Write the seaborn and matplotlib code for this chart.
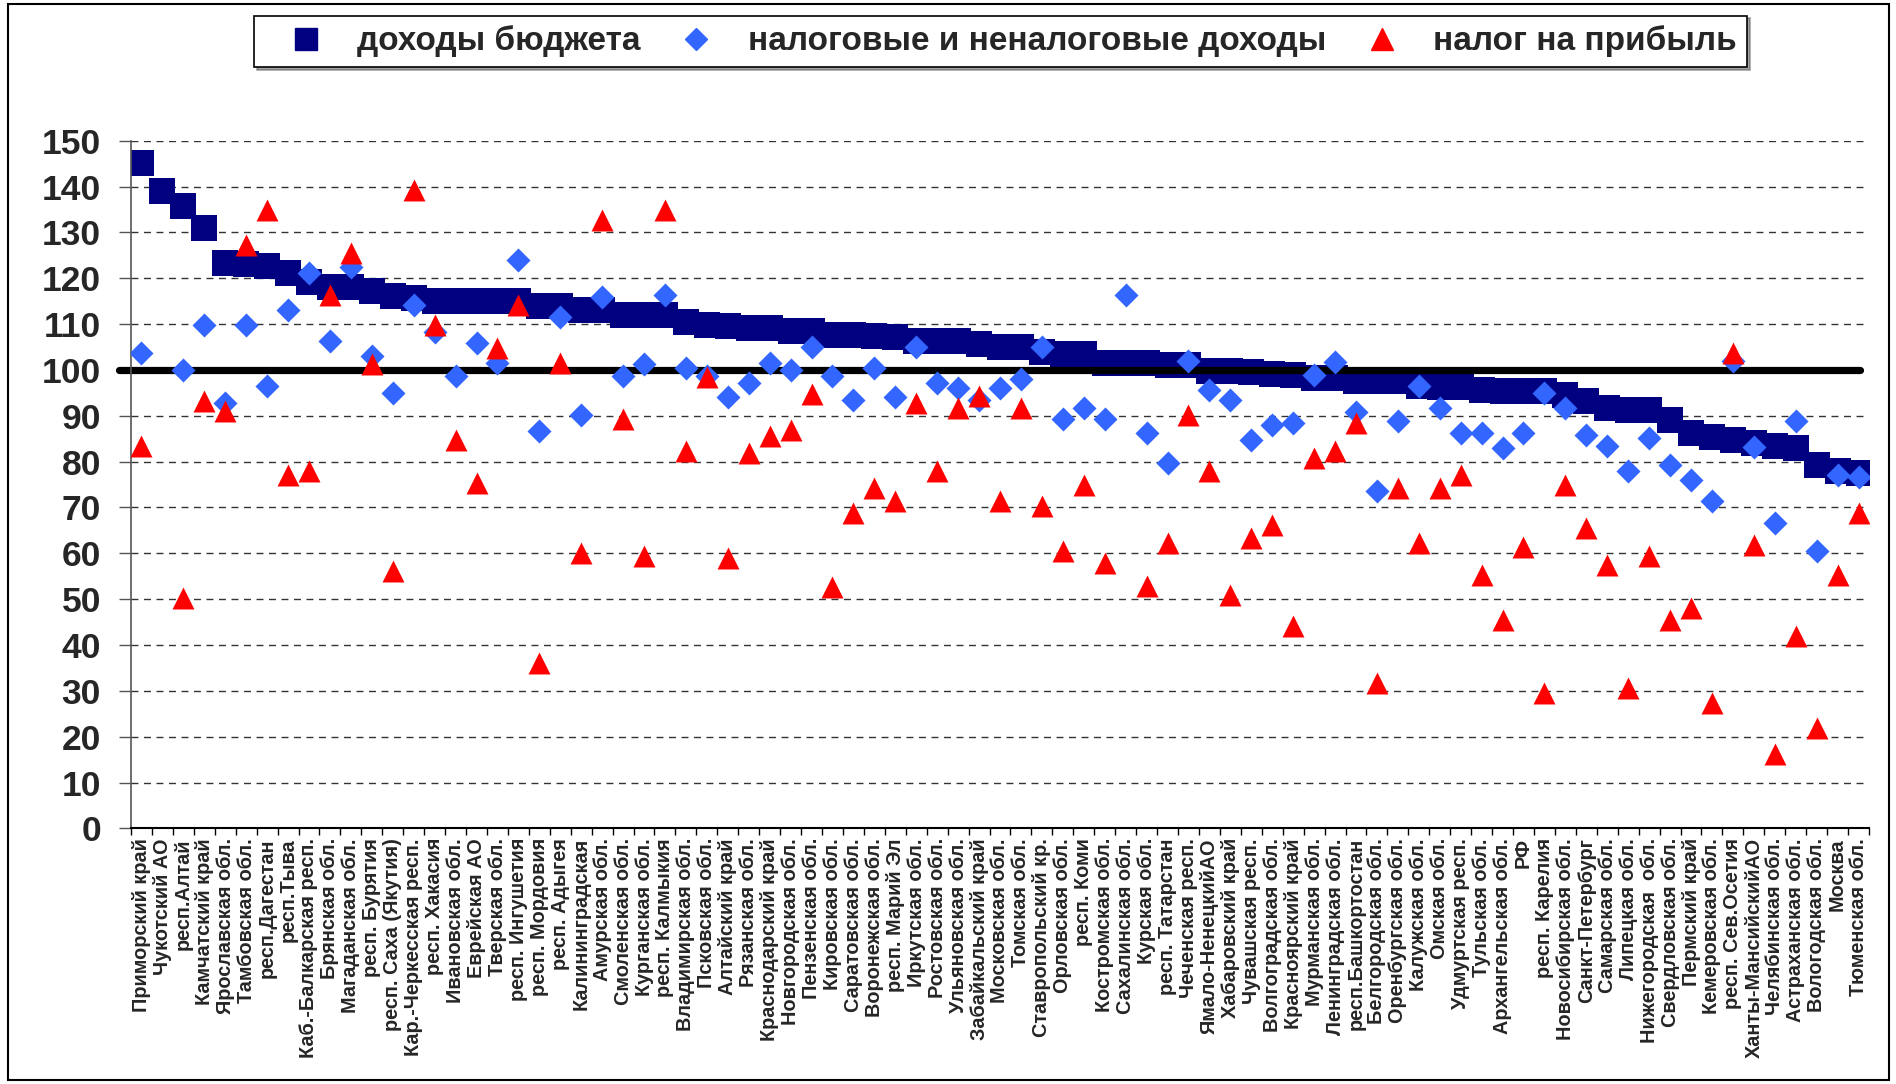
import numpy as np
import pandas as pd
import matplotlib
matplotlib.use("Agg")
import matplotlib.pyplot as plt
import seaborn as sns
from matplotlib.lines import Line2D
from matplotlib.patches import Rectangle
from matplotlib.ticker import FixedLocator

# ---------------- data ----------------
regions = [
    "Приморский край", "Чукотский АО", "респ.Алтай", "Камчатский край", "Ярославская обл.",
    "Тамбовская обл.", "респ.Дагестан", "респ.Тыва", "Каб.-Балкарская респ.", "Брянская обл.",
    "Магаданская обл.", "респ. Бурятия", "респ. Саха (Якутия)", "Кар.-Черкесская респ.", "респ. Хакасия",
    "Ивановская обл.", "Еврейская АО", "Тверская обл.", "респ. Ингушетия", "респ. Мордовия",
    "респ. Адыгея", "Калининградская", "Амурская обл.", "Смоленская обл.", "Курганская обл.",
    "респ. Калмыкия", "Владимирская обл.", "Псковская обл.", "Алтайский край", "Рязанская обл.",
    "Краснодарский край", "Новгородская обл.", "Пензенская обл.", "Кировская обл.", "Саратовская обл.",
    "Воронежская обл.", "респ. Марий Эл", "Иркутская обл.", "Ростовская обл.", "Ульяновская обл.",
    "Забайкальский край", "Московская обл.", "Томская обл.", "Ставропольский кр.", "Орловская обл.",
    "респ. Коми", "Костромская обл.", "Сахалинская обл.", "Курская обл.", "респ. Татарстан",
    "Чеченская респ.", "Ямало-НенецкийАО", "Хабаровский край", "Чувашская респ.", "Волгоградская обл.",
    "Красноярский край", "Мурманская обл.", "Ленинградская обл.", "респ.Башкортостан", "Белгородская обл.",
    "Оренбургская обл.", "Калужская обл.", "Омская обл.", "Удмуртская респ.", "Тульская обл.",
    "Архангельская обл.", "РФ", "респ. Карелия", "Новосибирская обл.", "Санкт-Петербург",
    "Самарская обл.", "Липецкая обл.", "Нижегородская  обл.", "Свердловская обл.", "Пермский край",
    "Кемеровская обл.", "респ. Сев.Осетия", "Ханты-МансийскийАО", "Челябинская обл.", "Астраханская обл.",
    "Вологодская обл.", "Москва", "Тюменская обл.",
]

budget_income = [
    145.1, 139.1, 135.8, 130.9, 123.3, 123.0, 122.6, 121.2, 119.2, 118.1,
    118.0, 117.2, 116.2, 115.7, 115.0, 115.0, 115.0, 115.0, 115.0, 114.0,
    114.0, 113.0, 113.0, 112.0, 112.0, 112.0, 110.5, 109.7, 109.5, 109.2,
    109.2, 108.5, 108.5, 107.7, 107.6, 107.5, 107.1, 106.4, 106.4, 106.4,
    105.6, 105.1, 105.1, 104.0, 103.5, 103.5, 101.5, 101.5, 101.5, 101.0,
    101.0, 99.8, 99.8, 99.5, 99.2, 98.8, 98.3, 98.3, 97.6, 97.6,
    97.6, 96.6, 96.3, 96.3, 95.6, 95.3, 95.3, 95.3, 94.6, 93.3,
    91.6, 91.3, 91.3, 89.0, 86.3, 85.3, 84.7, 84.1, 83.5, 82.9,
    79.3, 78.0, 77.6,
]

tax_nontax_income = [
    103.6, np.nan, 99.9, 109.7, 92.7, 109.7, 96.6, 113.1, 121.2, 106.4,
    122.5, 103.1, 94.9, 114.1, 108.2, 98.7, 105.9, 101.5, 124.0, 86.7,
    111.5, 90.1, 115.8, 98.7, 101.2, 116.4, 100.5, 98.7, 94.0, 97.2,
    101.6, 99.9, 104.9, 98.7, 93.4, 100.5, 94.0, 104.9, 97.1, 96.1,
    93.4, 96.1, 98.1, 104.9, 89.4, 91.7, 89.4, 116.4, 86.2, 79.8,
    101.9, 95.6, 93.4, 84.7, 88.0, 88.5, 98.8, 101.7, 90.9, 73.7,
    88.9, 96.6, 91.7, 86.2, 86.2, 83.0, 86.2, 94.9, 91.7, 85.7,
    83.4, 77.9, 85.2, 79.2, 75.9, 71.4, 102.0, 83.1, 66.6, 88.9,
    60.6, 77.1, 76.6,
]

profit_tax = [
    83.4, np.nan, 50.2, 93.2, 91.1, 127.2, 134.8, 77.0, 78.0, 116.3,
    125.5, 101.4, 56.2, 139.2, 109.7, 84.8, 75.3, 104.8, 114.1, 36.0,
    101.6, 60.0, 132.7, 89.4, 59.5, 134.8, 82.4, 98.4, 58.9, 81.8,
    85.6, 86.8, 94.7, 52.7, 68.8, 74.3, 71.4, 92.8, 78.0, 91.6,
    94.4, 71.4, 91.7, 70.3, 60.6, 74.8, 57.8, np.nan, 52.9, 62.3,
    90.1, 78.0, 50.8, 63.4, 66.1, 44.2, 80.7, 82.4, 88.4, 31.8,
    74.3, 62.3, 74.3, 77.0, 55.3, 45.4, 61.3, 29.6, 74.8, 65.5,
    57.4, 30.6, 59.4, 45.4, 48.0, 27.3, 103.6, 61.8, 16.3, 42.0,
    22.0, 55.3, 68.8,
]

y_ticks = list(range(0, 151, 10))
legend_labels = ["доходы бюджета", "налоговые и неналоговые доходы", "налог на прибыль"]
reference_level = 100

# ---------------- style ----------------
sns.set_theme(style="white")
plt.rcParams["font.family"] = ["Liberation Sans", "DejaVu Sans"]
plt.rcParams["font.weight"] = "bold"

C_BUDGET = "#000080"
C_TAX = "#3366FF"
C_PROFIT = "#FF0000"

W, H = 1896, 1084
fig = plt.figure(figsize=(W / 100, H / 100), dpi=100)
fig.patch.set_facecolor("white")

ax_left, ax_right, ax_bottom, ax_top = 131, 1869, 828.4, 140.7
ax = fig.add_axes([ax_left / W, 1 - ax_bottom / H, (ax_right - ax_left) / W, (ax_bottom - ax_top) / H])
ax.set_facecolor("white")

df = pd.DataFrame({
    "region": regions,
    "budget": budget_income,
    "tax": tax_nontax_income,
    "profit": profit_tax,
})

sns.scatterplot(data=df, x="region", y="budget", marker="s", s=350, color=C_BUDGET,
                linewidth=0, ax=ax, zorder=2, legend=False)
ax.axhline(reference_level, xmin=-0.007, xmax=0.995, color="black", lw=5.2,
           zorder=2.5, clip_on=False)
sns.scatterplot(data=df, x="region", y="tax", marker="D", s=150, color=C_TAX,
                linewidth=0, ax=ax, zorder=3, legend=False)
sns.scatterplot(data=df, x="region", y="profit", marker="^", s=250, color=C_PROFIT,
                linewidth=0, ax=ax, zorder=4, legend=False)

n = len(regions)
ax.set_xlim(-0.5, n - 0.5)
ax.set_ylim(0, 150)
ax.set_xlabel("")
ax.set_ylabel("")

# y axis
ax.set_yticks(y_ticks)
ax.yaxis.grid(True, linestyle=(0, (5, 4)), color="#333333", lw=1.0)
ax.xaxis.grid(False)
ax.set_axisbelow(True)
ax.tick_params(axis="y", which="major", direction="out", length=8.6, width=1,
               color="#555555", pad=13, labelsize=25.5, left=True)
for t in ax.get_yticklabels():
    t.set_fontweight("bold")

# x axis
ax.set_xticks(range(n))
ax.set_xticklabels(regions, rotation=90, fontsize=14.3, fontweight="bold")
ax.tick_params(axis="x", which="major", length=0, pad=7)
ax.xaxis.set_minor_locator(FixedLocator(np.arange(n + 1) - 0.5))
ax.tick_params(axis="x", which="minor", direction="out", length=5, width=1,
               color="black", bottom=True)

for side in ["top", "right"]:
    ax.spines[side].set_visible(False)
ax.spines["left"].set_color("#555555")
ax.spines["left"].set_linewidth(1.2)
ax.spines["bottom"].set_color("black")
ax.spines["bottom"].set_linewidth(1.5)

# legend
handles = [
    Line2D([], [], marker="s", linestyle="", color=C_BUDGET, markersize=16),
    Line2D([], [], marker="D", linestyle="", color=C_TAX, markersize=11),
    Line2D([], [], marker="^", linestyle="", color=C_PROFIT, markersize=16),
]
leg = fig.legend(handles, legend_labels, loc="center",
                 bbox_to_anchor=(254 / W, 1 - 69 / H, 1493 / W, 55 / H),
                 mode="expand", ncol=3, frameon=True, fancybox=False, shadow=True,
                 edgecolor="black", fontsize=24, handlelength=2.5, handletextpad=0.3,
                 columnspacing=1.0, borderpad=0.3, borderaxespad=0)
leg.get_frame().set_linewidth(1.2)
for t in leg.get_texts():
    t.set_fontweight("bold")

# outer chart border
fig.patches.append(Rectangle((8 / W, 4 / H), (1889 - 8) / W, (1080 - 4) / H,
                             transform=fig.transFigure, fill=False,
                             edgecolor="black", lw=1.5))

fig.savefig("out.png", dpi=100)
